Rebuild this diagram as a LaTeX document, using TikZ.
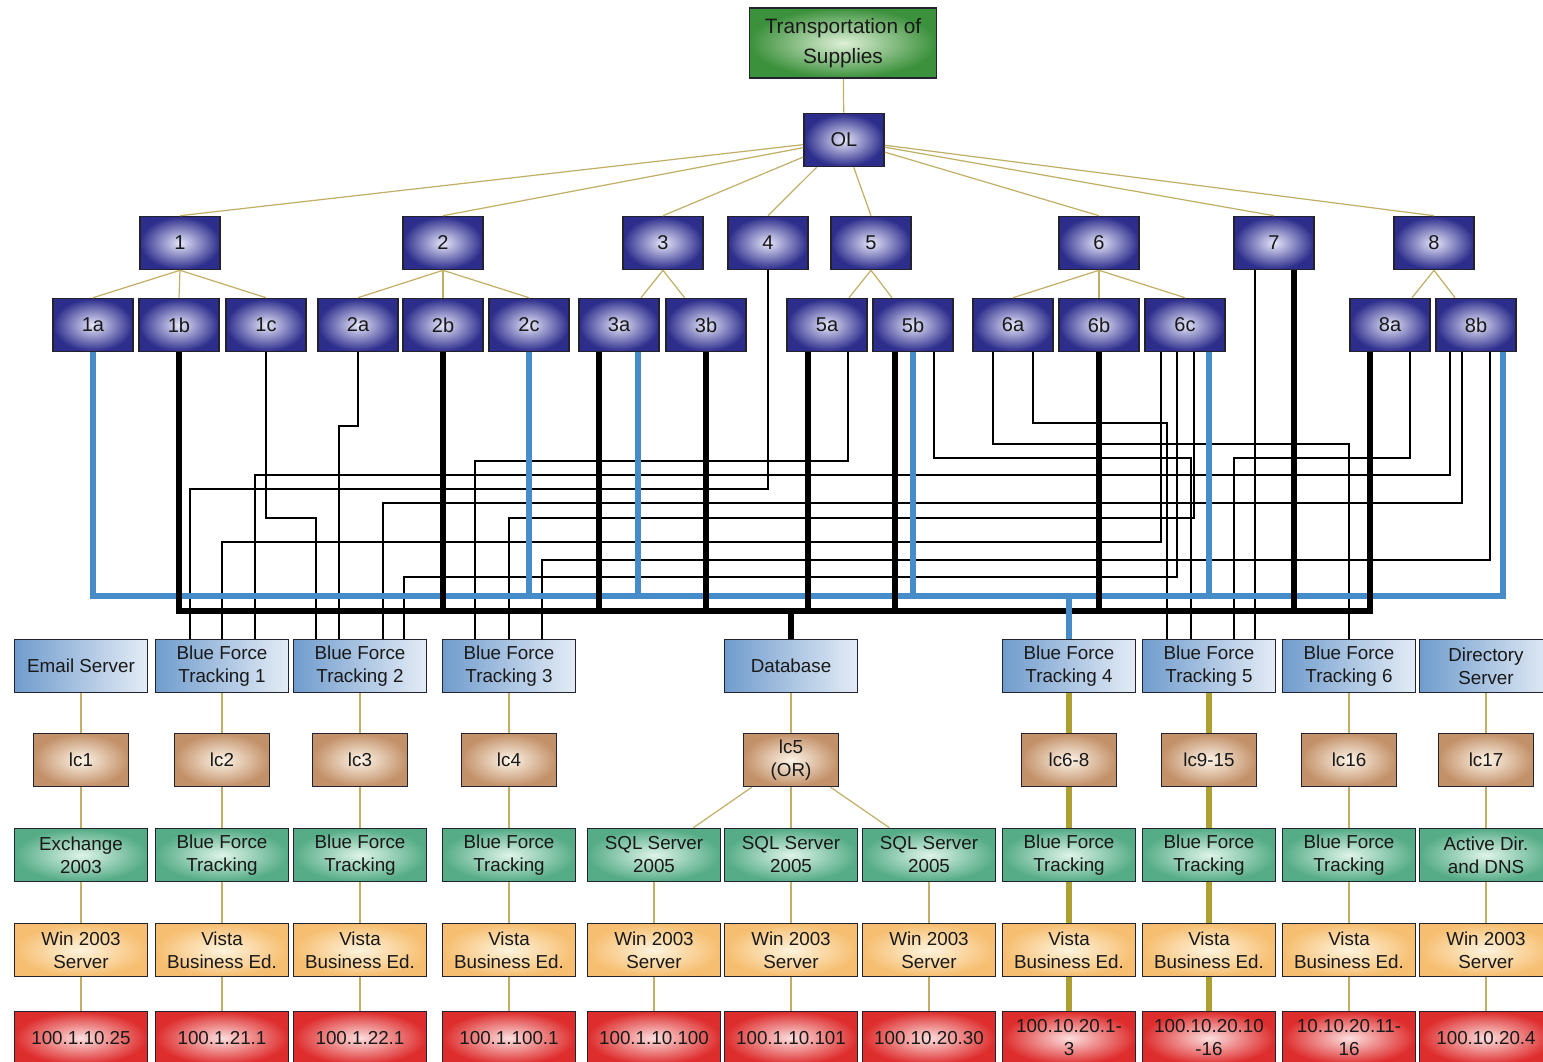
\documentclass[tikz,border=0pt]{standalone}
\usepackage{fontspec}
\setmainfont{Liberation Sans}

\definecolor{frame}{RGB}{35,35,45}
\definecolor{navy}{RGB}{45,45,140}
\definecolor{navylight}{RGB}{230,230,250}
\definecolor{leaf}{RGB}{60,145,60}
\definecolor{leaflight}{RGB}{222,240,215}
\definecolor{steel}{RGB}{112,156,205}
\definecolor{steellight}{RGB}{228,236,246}
\definecolor{clay}{RGB}{195,145,105}
\definecolor{claylight}{RGB}{253,244,232}
\definecolor{mint}{RGB}{85,172,135}
\definecolor{mintlight}{RGB}{222,244,232}
\definecolor{peach}{RGB}{246,190,112}
\definecolor{peachlight}{RGB}{255,244,222}
\definecolor{brick}{RGB}{222,45,45}
\definecolor{bricklight}{RGB}{252,222,222}
\definecolor{twig}{RGB}{192,175,100}
\definecolor{olivebar}{RGB}{172,160,52}
\definecolor{bfblue}{RGB}{70,140,200}

\tikzset{
  box/.style={draw=frame, line width=0.8pt, minimum height=26.5pt, inner sep=1pt,
    align=center, text=black!90, font=\fontsize{9.4}{11.5}\selectfont},
  mgr/.style={box, minimum width=40pt, inner color=navylight, outer color=navy,
    font=\fontsize{10}{12}\selectfont},
  goal/.style={box, minimum width=93.5pt, minimum height=35pt,
    inner color=leaflight, outer color=leaf, font=\fontsize{10.4}{15}\selectfont},
  srv/.style={box, minimum width=66.5pt, left color=steel, right color=steellight},
  lic/.style={box, minimum width=47.5pt, inner color=claylight, outer color=clay},
  app/.style={box, minimum width=66.5pt, inner color=mintlight, outer color=mint},
  os/.style={box, minimum width=66.5pt, inner color=peachlight, outer color=peach},
  ip/.style={box, minimum width=66.5pt, inner color=bricklight, outer color=brick},
  tree/.style={draw=twig, line width=0.6pt},
  feed/.style={draw=olivebar, line width=3pt},
  wire/.style={draw=black, line width=0.9pt},
  bluebus/.style={draw=bfblue, line width=2.6pt},
  blackbus/.style={draw=black, line width=3pt},
}

\begin{document}
\begin{tikzpicture}[x=0.5pt,y=-0.5pt]
\useasboundingbox (0,0) rectangle (1543,1061);
\fill[white] (0,0) rectangle (1543,1061);

% task tree
\node[goal] (top) at (843,43) {Transportation of\\Supplies};
\node[mgr] (ol) at (844,140) {OL};
\foreach \n/\x in {1/180,2/443,3/663,4/768,5/871,6/1099,7/1274,8/1434}
  \node[mgr] (n\n) at (\x,243) {\n};
\foreach \n/\x in {1a/93,1b/179,1c/266,2a/358,2b/443,2c/529,3a/619,3b/706,
                   5a/827,5b/913,6a/1013,6b/1099,6c/1185,8a/1390,8b/1476}
  \node[mgr] (n\n) at (\x,325) {\n};

\draw[tree] (top) -- (ol);
\foreach \n in {1,...,8}
  \draw[tree] (ol) -- (n\n.north);
\foreach \p/\ch in {1/1a,1/1b,1/1c,2/2a,2/2b,2/2c,6/6a,6/6b,6/6c}
  \draw[tree] (n\p.south) -- (n\ch.north);
\foreach \p/\ch in {3/3a,3/3b,5/5a,5/5b,8/8a,8/8b}
  \draw[tree] (n\p.south) -- (n\ch);

% systems
\foreach \n/\x/\txt in {email/81/Email Server, bft1/222/{Blue Force\\Tracking 1},
    bft2/360/{Blue Force\\Tracking 2}, bft3/509/{Blue Force\\Tracking 3},
    db/791/Database, bft4/1069/{Blue Force\\Tracking 4},
    bft5/1209/{Blue Force\\Tracking 5}, bft6/1349/{Blue Force\\Tracking 6},
    dir/1486/{Directory\\Server}}
  \node[srv] (\n) at (\x,666) {\txt};
\foreach \i/\x/\txt in {1/81/lc1, 2/222/lc2, 3/360/lc3, 4/509/lc4, 5/791/{lc5\\(OR)},
    6/1069/lc6-8, 7/1209/lc9-15, 8/1349/lc16, 9/1486/lc17}
  \node[lic] (l\i) at (\x,760) {\txt};
\foreach \i/\x/\txt in {1/81/{Exchange\\2003}, 2/222/{Blue Force\\Tracking},
    3/360/{Blue Force\\Tracking}, 4/509/{Blue Force\\Tracking},
    5/654/{SQL Server\\2005}, 6/791/{SQL Server\\2005}, 7/929/{SQL Server\\2005},
    8/1069/{Blue Force\\Tracking}, 9/1209/{Blue Force\\Tracking},
    10/1349/{Blue Force\\Tracking}, 11/1486/{Active Dir.\\and DNS}}
  \node[app] (a\i) at (\x,855) {\txt};
\foreach \i/\x/\txt in {1/81/{Win 2003\\Server}, 2/222/{Vista\\Business Ed.},
    3/360/{Vista\\Business Ed.}, 4/509/{Vista\\Business Ed.},
    5/654/{Win 2003\\Server}, 6/791/{Win 2003\\Server}, 7/929/{Win 2003\\Server},
    8/1069/{Vista\\Business Ed.}, 9/1209/{Vista\\Business Ed.},
    10/1349/{Vista\\Business Ed.}, 11/1486/{Win 2003\\Server}}
  \node[os] (o\i) at (\x,950) {\txt};
\foreach \i/\x/\txt in {1/81/100.1.10.25, 2/222/100.1.21.1, 3/360/100.1.22.1,
    4/509/100.1.100.1, 5/654/100.1.10.100, 6/791/100.1.10.101, 7/929/100.10.20.30,
    8/1069/{100.10.20.1-\\3}, 9/1209/{100.10.20.10\\-16}, 10/1349/{10.10.20.11-\\16},
    11/1486/100.10.20.4}
  \node[ip] (p\i) at (\x,1038) {\txt};

\foreach \s/\i in {email/1,bft1/2,bft2/3,bft3/4,db/5,bft6/8,dir/9}
  \draw[tree] (\s) -- (l\i);
\draw[feed] (bft4) -- (l6);
\draw[feed] (bft5) -- (l7);
\foreach \i/\j in {1/1,2/2,3/3,4/4,5/5,5/6,5/7,8/10,9/11}
  \draw[tree] (l\i) -- (a\j);
\draw[feed] (l6) -- (a8);
\draw[feed] (l7) -- (a9);
\foreach \j in {1,...,7,10,11} {
  \draw[tree] (a\j) -- (o\j);
  \draw[tree] (o\j) -- (p\j);
}
\foreach \j in {8,9} {
  \draw[feed] (a\j) -- (o\j);
  \draw[feed] (o\j) -- (p\j);
}

% taps under the task boxes
\coordinate (k3a) at ([xshift=-10pt]n3a.south);
\coordinate (b3a) at ([xshift=9.5pt]n3a.south);
\coordinate (k5a) at ([xshift=-9.5pt]n5a.south);
\coordinate (w5a) at ([xshift=10.5pt]n5a.south);
\coordinate (k5b) at ([xshift=-9pt]n5b.south);
\coordinate (w5b) at ([xshift=10.5pt]n5b.south);
\coordinate (w6a) at ([xshift=-10pt]n6a.south);
\coordinate (v6a) at ([xshift=10pt]n6a.south);
\coordinate (w6c) at ([xshift=-12pt]n6c.south);
\coordinate (v6c) at ([xshift=-4pt]n6c.south);
\coordinate (u6c) at ([xshift=4.5pt]n6c.south);
\coordinate (b6c) at ([xshift=12pt]n6c.south);
\coordinate (w7) at ([xshift=-9.5pt]n7.south);
\coordinate (k7) at ([xshift=10pt]n7.south);
\coordinate (k8a) at ([xshift=-10pt]n8a.south);
\coordinate (w8a) at ([xshift=10pt]n8a.south);
\coordinate (w8b) at ([xshift=-13pt]n8b.south);
\coordinate (v8b) at ([xshift=-7pt]n8b.south);
\coordinate (u8b) at ([xshift=7pt]n8b.south);
\coordinate (b8b) at ([xshift=13.5pt]n8b.south);
% ... and on top of the tracking boxes
\coordinate (d11) at ([xshift=-16pt]bft1.north);
\coordinate (d12) at (bft1.north);
\coordinate (d13) at ([xshift=16.5pt]bft1.north);
\coordinate (d21) at ([xshift=-22pt]bft2.north);
\coordinate (d22) at ([xshift=-10.5pt]bft2.north);
\coordinate (d23) at ([xshift=11.5pt]bft2.north);
\coordinate (d24) at ([xshift=22pt]bft2.north);
\coordinate (d31) at ([xshift=-17pt]bft3.north);
\coordinate (d32) at (bft3.north);
\coordinate (d33) at ([xshift=16.5pt]bft3.north);
\coordinate (d51) at ([xshift=-21pt]bft5.north);
\coordinate (d52) at ([xshift=-9pt]bft5.north);
\coordinate (d53) at ([xshift=12.5pt]bft5.north);
\coordinate (d61) at (bft6.north);

% single links
\foreach \src/\lev/\dst in {n4.south/489/d11, w6c/542/d12, w8b/475/d13,
    n1c.south/518/d21, n2a.south/426/d22, v8b/503/d23, v6c/577/d24,
    w5a/461/d31, u6c/518/d32, u8b/560/d33,
    v6a/423/d51, w5b/458/d52, w8a/458/d53, w6a/444/d61}
  \draw[wire] (\src) |- (\dst |- 0,\lev) -- (\dst);
\draw[wire] (w7) -- (w7 |- bft5.north);

% shared lines
\coordinate (bbus) at (0,596);
\coordinate (kbus) at (0,611);
\draw[bluebus] (n1a.south) |- (b8b |- bbus) -- (b8b);
\foreach \t in {n2c.south,b3a,n5b.south,b6c}
  \draw[bluebus] (\t) -- (\t |- bbus);
\draw[blackbus] (n1b.south) |- (k8a |- kbus) -- (k8a);
\foreach \t in {n2b.south,k3a,n3b.south,k5a,k5b,n6b.south,k7}
  \draw[blackbus] (\t) -- (\t |- kbus);
\draw[blackbus] (db.north) -- (db.north |- kbus);
\draw[bluebus] (bft4.north) -- (bft4.north |- bbus);
\end{tikzpicture}
\end{document}
